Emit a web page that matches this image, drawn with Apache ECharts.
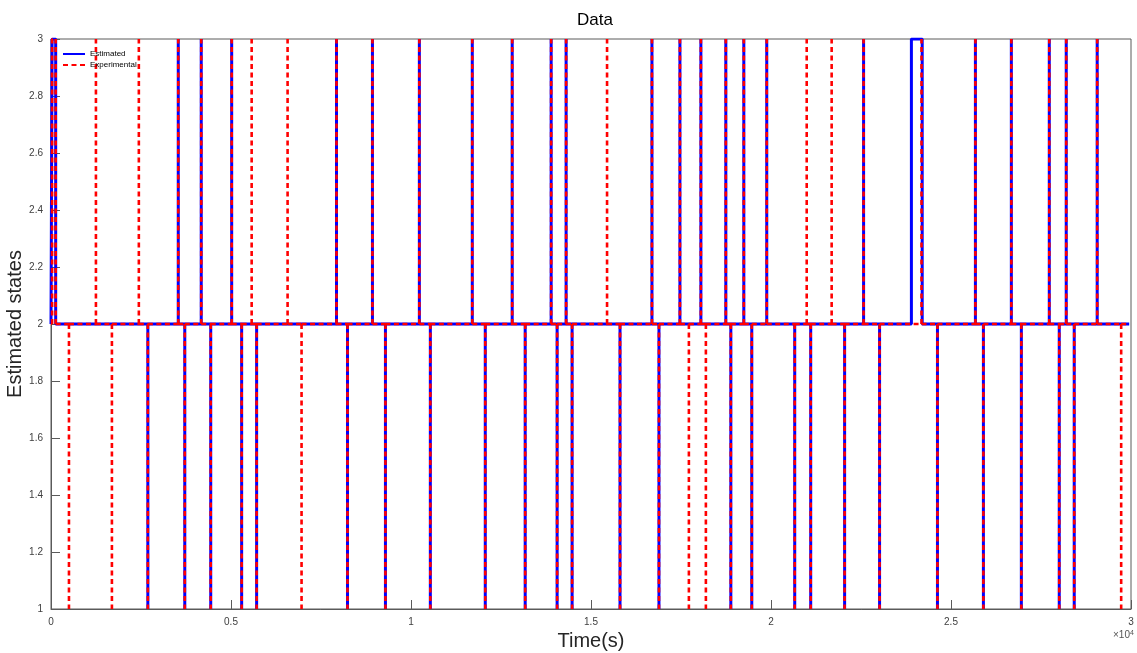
<!DOCTYPE html>
<html>
<head>
<meta charset="utf-8">
<script src="https://cdn.jsdelivr.net/npm/echarts@6/dist/echarts.min.js"></script>
<style>html,body{margin:0;padding:0;background:#fff}#c{width:1137px;height:653px}</style>
</head>
<body>
<div id="c"></div>
<script>
// ---- data (times in seconds) ----
var xTicks = [0, 5000, 10000, 15000, 20000, 25000, 30000];
var yTicks = [1, 1.2, 1.4, 1.6, 1.8, 2, 2.2, 2.4, 2.6, 2.8, 3];
var baseLevel = 2;
var endTime = 29950;

// Estimated (blue): instants of short excursions to state 3 / state 1, and longer holds [start, end, level]
var estUp = [3535, 4173, 5019, 7931, 8929, 10232, 11702, 12811, 13893, 14309, 16693, 17470, 18052, 18745, 19245, 19882, 22572, 25678, 26676, 27730, 28201, 29061];
var estDown = [2690, 3716, 4437, 5296, 5712, 8236, 9290, 10537, 12063, 13172, 14059, 14475, 15806, 16888, 18884, 19466, 20659, 21103, 22045, 23016, 24624, 25900, 26954, 28007, 28423];
var estHold = [[30, 130, 3], [23900, 24200, 3]];

// Experimental (red)
var expUp = [1248, 2440, 3535, 4173, 5019, 5574, 6572, 7931, 8929, 10232, 11702, 12811, 13893, 14309, 15446, 16693, 17470, 18052, 18745, 19245, 19882, 20992, 21685, 22572, 24181, 25678, 26676, 27730, 28201, 29061];
var expDown = [499, 1692, 2690, 3716, 4437, 5296, 5712, 6960, 8236, 9290, 10537, 12063, 13172, 14059, 14475, 15806, 16888, 17719, 18191, 18884, 19466, 20659, 21103, 22045, 23016, 24624, 25900, 26954, 28007, 28423, 29727];
var expHold = [[30, 130, 3]];

function events(ups, downs, holds) {
  var ev = [];
  ups.forEach(function (t) { ev.push([t, t, 3]); });
  downs.forEach(function (t) { ev.push([t, t, 1]); });
  holds.forEach(function (h) { ev.push(h); });
  ev.sort(function (a, b) { return a[0] - b[0]; });
  return ev;
}

// continuous step polyline
function buildSteps(ups, downs, holds) {
  var pts = [[0, baseLevel]];
  events(ups, downs, holds).forEach(function (e) {
    pts.push([e[0], baseLevel], [e[0], e[2]], [e[1], e[2]], [e[1], baseLevel]);
  });
  pts.push([endTime, baseLevel]);
  return pts;
}

// same step line, split into pieces that each start on the baseline
// (so that the dash pattern of every vertical edge starts at the same place)
function buildStepPieces(ups, downs, holds) {
  var pts = [];
  var prev = 0;
  events(ups, downs, holds).forEach(function (e) {
    pts.push([prev, baseLevel], [e[0], baseLevel], [e[0], null]);
    pts.push([e[0], baseLevel], [e[0], e[2]], [e[1], e[2]], [e[1], null]);
    if (e[1] !== e[0]) pts.push([e[1], baseLevel], [e[1], e[2]], [e[1], null]);
    prev = e[1];
  });
  pts.push([prev, baseLevel], [endTime, baseLevel]);
  return pts;
}

var FONT = 'Liberation Sans, Arial, sans-serif';
var chart = echarts.init(document.getElementById('c'), null, {renderer: 'canvas'});
chart.setOption({
  animation: false,
  backgroundColor: '#fff',
  title: {
    text: 'Data', left: 572, top: 7,
    textStyle: {fontFamily: FONT, fontSize: 17, fontWeight: 'normal', color: '#000'}
  },
  legend: {
    left: 57, top: 45, orient: 'vertical', itemGap: 3, itemWidth: 22, itemHeight: 10,
    textStyle: {fontFamily: FONT, fontSize: 8, color: '#000'},
    itemStyle: {opacity: 0},
    data: ['Estimated', 'Experimental']
  },
  grid: {left: 51, right: 6, top: 39, bottom: 44, outerBoundsMode: 'none', containLabel: false,
    show: true, borderColor: '#5a5a5a', borderWidth: 1, backgroundColor: 'transparent'},
  xAxis: {
    type: 'value', min: 0, max: 30000, interval: 5000,
    name: 'Time(s)', nameLocation: 'middle', nameGap: 22, nameMoveOverlap: false,
    nameTextStyle: {fontFamily: FONT, fontSize: 20, color: '#262626'},
    axisLine: {show: true, lineStyle: {color: '#5a5a5a', width: 1}},
    axisTick: {inside: true, length: 9, lineStyle: {color: '#5a5a5a'}},
    axisLabel: {fontFamily: FONT, fontSize: 10, color: '#404040', margin: 8,
      formatter: function (v) { return String(Math.round(v / 1000) / 10); }},
    splitLine: {show: false}
  },
  yAxis: {
    type: 'value', min: 1, max: 3, interval: 0.2,
    name: 'Estimated states', nameLocation: 'middle', nameGap: 26, nameMoveOverlap: false,
    nameTextStyle: {fontFamily: FONT, fontSize: 20, color: '#262626'},
    axisLine: {show: true, lineStyle: {color: '#5a5a5a', width: 1}},
    axisTick: {inside: true, length: 9, lineStyle: {color: '#5a5a5a'}},
    axisLabel: {fontFamily: FONT, fontSize: 10, color: '#404040', margin: 8,
      formatter: function (v) { return String(Math.round(v * 10) / 10); }},
    splitLine: {show: false}
  },
  graphic: [{
    type: 'text', left: 1113, top: 630,
    style: {rich: {a: {fontSize: 10, fill: '#555', fontFamily: FONT}, b: {fontSize: 7, fill: '#555', verticalAlign: 'top', fontFamily: FONT}},
      text: '{a|\u00d710}{b|4}'}
  }],
  series: [
    {name: 'Estimated', type: 'line', data: buildSteps(estUp, estDown, estHold), showSymbol: false, symbol: 'none',
      lineStyle: {color: '#0000ff', width: 3}, itemStyle: {color: '#0000ff'}},
    {name: 'Experimental', type: 'line', data: buildStepPieces(expUp, expDown, expHold), showSymbol: false, symbol: 'none',
      connectNulls: false,
      lineStyle: {color: '#ff0000', width: 2.6, type: [5, 3.5]}, itemStyle: {color: '#ff0000'}}
  ]
});
</script>
</body>
</html>
